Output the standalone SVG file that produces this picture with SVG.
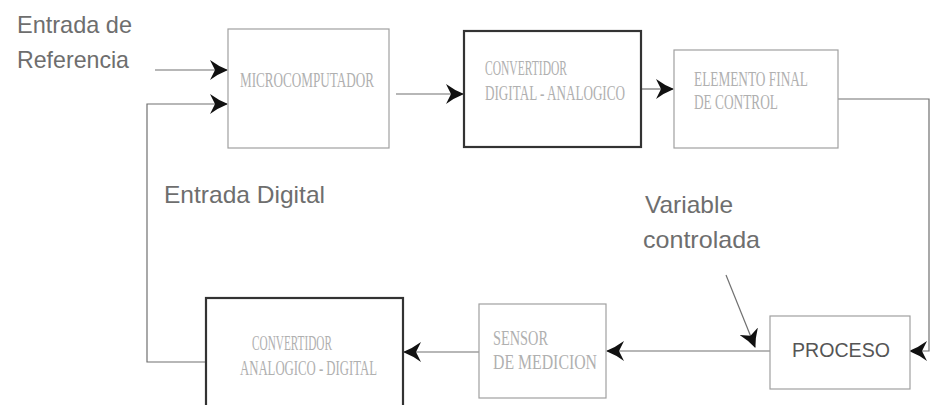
<svg xmlns="http://www.w3.org/2000/svg" width="931" height="405" viewBox="0 0 931 405">
  <defs>
    <style>
      .box { fill: #ffffff; stroke: #a0a0a0; stroke-width: 1.2; }
      .box-dark { fill: #ffffff; stroke: #333333; stroke-width: 2.2; }
      .btxt { font-family: "Liberation Serif", "Times New Roman", serif; fill: #b0b0b0; font-size: 20px; }
      .label { font-family: "Liberation Sans", Arial, sans-serif; fill: #6e6e6e; font-size: 24px; }
      .wire { fill: none; stroke: #707070; stroke-width: 1.2; }
    </style>
    <marker id="head" viewBox="0 0 18 20" refX="17" refY="10" markerWidth="18" markerHeight="20" markerUnits="userSpaceOnUse" orient="auto">
      <path d="M0,0 Q8,6 18,10 Q8,14 0,20 L5,10 Z" fill="#111111"/>
    </marker>
  </defs>

  <!-- free labels -->
  <text class="label" x="17" y="33" textLength="115" lengthAdjust="spacingAndGlyphs">Entrada de</text>
  <text class="label" x="17" y="68" textLength="112" lengthAdjust="spacingAndGlyphs">Referencia</text>
  <text class="label" x="164" y="203" font-size="25" textLength="161" lengthAdjust="spacingAndGlyphs">Entrada Digital</text>
  <text class="label" x="645" y="213" textLength="88" lengthAdjust="spacingAndGlyphs">Variable</text>
  <text class="label" x="643" y="248" textLength="117" lengthAdjust="spacingAndGlyphs">controlada</text>

  <!-- connectors -->
  <g id="connectors">
    <line class="wire" x1="155" y1="70" x2="227" y2="70" marker-end="url(#head)"/>
    <polyline class="wire" points="206,362 147,362 147,104 227,104" marker-end="url(#head)"/>
    <line class="wire" x1="396" y1="94" x2="463" y2="94" marker-end="url(#head)"/>
    <line class="wire" x1="641" y1="89" x2="673" y2="89" marker-end="url(#head)"/>
    <polyline class="wire" points="838,99 929,99 929,351 910,351" marker-end="url(#head)"/>
    <line class="wire" x1="770" y1="351" x2="607" y2="351" marker-end="url(#head)"/>
    <line class="wire" x1="479" y1="352" x2="404" y2="352" marker-end="url(#head)"/>
    <line class="wire" x1="726" y1="275" x2="755" y2="347" stroke-width="1" marker-end="url(#head)"/>
  </g>

  <g id="microcomputador">
    <rect class="box" x="228" y="29" width="161" height="119"/>
    <text class="btxt" x="240" y="87" font-size="23" fill="#a0a0a0" textLength="134" lengthAdjust="spacingAndGlyphs">MICROCOMPUTADOR</text>
  </g>

  <g id="convertidor-da">
    <rect class="box-dark" x="464" y="31" width="177" height="116"/>
    <text class="btxt" x="485" y="75" textLength="82" lengthAdjust="spacingAndGlyphs">CONVERTIDOR</text>
    <text class="btxt" x="485" y="100" textLength="140" lengthAdjust="spacingAndGlyphs">DIGITAL - ANALOGICO</text>
  </g>

  <g id="elemento-final">
    <rect class="box" x="674" y="50" width="164" height="98"/>
    <text class="btxt" x="694" y="86" textLength="114" lengthAdjust="spacingAndGlyphs">ELEMENTO FINAL</text>
    <text class="btxt" x="694" y="109" textLength="84" lengthAdjust="spacingAndGlyphs">DE CONTROL</text>
  </g>

  <g id="proceso">
    <rect class="box" x="770" y="316" width="140" height="73"/>
    <text x="792" y="357" font-family="Liberation Sans, Arial, sans-serif" font-size="20" fill="#555555" textLength="98" lengthAdjust="spacingAndGlyphs">PROCESO</text>
  </g>

  <g id="sensor">
    <rect class="box" x="479" y="304" width="127" height="94"/>
    <text class="btxt" x="493" y="345" textLength="55" lengthAdjust="spacingAndGlyphs">SENSOR</text>
    <text class="btxt" x="493" y="369" textLength="104" lengthAdjust="spacingAndGlyphs">DE MEDICION</text>
  </g>

  <g id="convertidor-ad">
    <rect class="box-dark" x="206" y="298" width="197" height="115"/>
    <text class="btxt" x="252" y="350" textLength="80" lengthAdjust="spacingAndGlyphs">CONVERTIDOR</text>
    <text class="btxt" x="240" y="375" textLength="137" lengthAdjust="spacingAndGlyphs">ANALOGICO - DIGITAL</text>
  </g>
</svg>
